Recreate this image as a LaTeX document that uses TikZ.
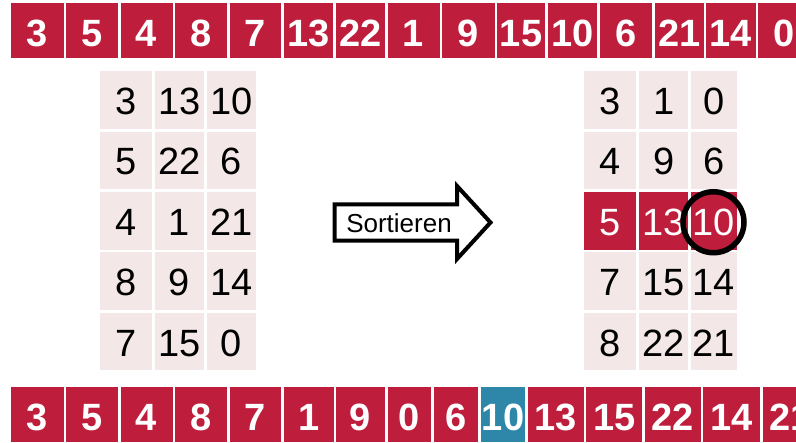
\documentclass[tikz,border=0pt]{standalone}
\usepackage{fontspec}
\setmainfont{Liberation Sans}
\usepackage{tikz}
\usepackage{xcolor}
\definecolor{boxred}{RGB}{190,30,60}
\definecolor{cellpink}{RGB}{243,231,231}
\definecolor{boxblue}{RGB}{46,134,168}

\begin{document}
\begin{tikzpicture}[x=1pt,y=1pt,yscale=-1,xscale=1,
    redbox/.style={fill=boxred,text=white,font=\fontsize{38}{40}\selectfont\bfseries,inner sep=0pt,anchor=north west,minimum height=55.5pt,text height=32.5pt,text depth=0pt},
    bluebox/.style={redbox,fill=boxblue},
    cell/.style={fill=cellpink,text=black,font=\fontsize{38}{40}\selectfont,inner sep=0pt,anchor=north west,minimum width=52pt,minimum height=57.5pt,text height=29pt,text depth=0pt},
    hotcell/.style={cell,fill=boxred,text=white},
    ring/.style={draw=black,circle,line width=5.5pt,inner sep=0pt,minimum size=61pt}]
            \useasboundingbox (0,0) rectangle (796,443);
            \clip (0,0) rectangle (796,443);
            
            %Shape: top row
            \node [redbox,minimum width=52.3pt] (t1) at (11,2.7) {3};
            \node [redbox,minimum width=52.3pt] (t2) at (65.7,2.7) {5};
            \node [redbox,minimum width=52pt] (t3) at (120.3,2.7) {4};
            \node [redbox,minimum width=52pt] (t4) at (175,2.7) {8};
            \node [redbox,minimum width=51.7pt] (t5) at (229.3,2.7) {7};
            \node [redbox,minimum width=49pt] (t6) at (283.7,2.7) {13};
            \node [redbox,minimum width=49.7pt] (t7) at (335.3,2.7) {22};
            \node [redbox,minimum width=52pt] (t8) at (387.3,2.7) {1};
            \node [redbox,minimum width=52.6pt] (t9) at (441.7,2.7) {9};
            \node [redbox,minimum width=48.3pt] (t10) at (496.7,2.7) {15};
            \node [redbox,minimum width=49.3pt] (t11) at (547.7,2.7) {10};
            \node [redbox,minimum width=52.3pt] (t12) at (599.7,2.7) {6};
            \node [redbox,minimum width=48.6pt] (t13) at (654.7,2.7) {21};
            \node [redbox,minimum width=49.3pt] (t14) at (706,2.7) {14};
            \node [redbox,minimum width=51pt] (t15) at (758,2.7) {0};
            
            %Shape: left grid
            \node [cell] (l11) at (100,71) {3};
            \node [cell,minimum width=48.7pt] (l12) at (155,71) {13};
            \node [cell,minimum width=49pt] (l13) at (206.7,71) {10};
            \node [cell] (l21) at (100,131.5) {5};
            \node [cell,minimum width=48.7pt] (l22) at (155,131.5) {22};
            \node [cell,minimum width=49pt] (l23) at (206.7,131.5) {6};
            \node [cell] (l31) at (100,192) {4};
            \node [cell,minimum width=48.7pt] (l32) at (155,192) {1};
            \node [cell,minimum width=49pt] (l33) at (206.7,192) {21};
            \node [cell] (l41) at (100,252.3) {8};
            \node [cell,minimum width=48.7pt] (l42) at (155,252.3) {9};
            \node [cell,minimum width=49pt] (l43) at (206.7,252.3) {14};
            \node [cell] (l51) at (100,312.7) {7};
            \node [cell,minimum width=48.7pt] (l52) at (155,312.7) {15};
            \node [cell,minimum width=49pt] (l53) at (206.7,312.7) {0};
            
            %Shape: arrow
            \draw [line width=4pt,line join=miter,fill=white] (334.7,204.3) -- (457,204.3) -- (457,186) -- (490.5,222.5) -- (457,259) -- (457,240.7) -- (334.7,240.7) -- cycle ;
            % Text Node
            \node [font=\fontsize{26}{28}\selectfont] (sort) at (399,223) {Sortieren};
            
            %Shape: right grid
            \node [cell] (r11) at (584,71) {3};
            \node [cell,minimum width=49pt] (r12) at (639,71) {1};
            \node [cell,minimum width=46pt] (r13) at (690.7,71) {0};
            \node [cell] (r21) at (584,131.5) {4};
            \node [cell,minimum width=49pt] (r22) at (639,131.5) {9};
            \node [cell,minimum width=46pt] (r23) at (690.7,131.5) {6};
            \node [hotcell] (r31) at (584,192) {5};
            \node [hotcell,minimum width=49pt] (r32) at (639,192) {13};
            \node [hotcell,minimum width=46pt] (r33) at (690.7,192) {10};
            \node [cell] (r41) at (584,252.3) {7};
            \node [cell,minimum width=49pt] (r42) at (639,252.3) {15};
            \node [cell,minimum width=46pt] (r43) at (690.7,252.3) {14};
            \node [cell] (r51) at (584,312.7) {8};
            \node [cell,minimum width=49pt] (r52) at (639,312.7) {22};
            \node [cell,minimum width=46pt] (r53) at (690.7,312.7) {21};
            % median mark
            \node [ring] (mark) at ([xshift=-0.4pt,yshift=1.3pt]r33.center) {};
            
            %Shape: bottom row
            \node [redbox,minimum width=52.3pt] (b1) at (11,386.7) {3};
            \node [redbox,minimum width=52.3pt] (b2) at (65.7,386.7) {5};
            \node [redbox,minimum width=52pt] (b3) at (120.3,386.7) {4};
            \node [redbox,minimum width=52pt] (b4) at (175,386.7) {8};
            \node [redbox,minimum width=51.7pt] (b5) at (229.3,386.7) {7};
            \node [redbox,minimum width=49.6pt] (b6) at (283.7,386.7) {1};
            \node [redbox,minimum width=49.7pt] (b7) at (335.3,386.7) {9};
            \node [redbox,minimum width=43.7pt] (b8) at (387.3,386.7) {0};
            \node [redbox,minimum width=44.3pt] (b9) at (433.7,386.7) {6};
            \node [bluebox,minimum width=44.3pt] (b10) at (480.7,386.7) {10};
            \node [redbox,minimum width=55.6pt] (b11) at (527.7,386.7) {13};
            \node [redbox,minimum width=56pt] (b12) at (586,386.7) {15};
            \node [redbox,minimum width=55.6pt] (b13) at (644.7,386.7) {22};
            \node [redbox,minimum width=56.7pt] (b14) at (703,386.7) {14};
            \node [redbox,minimum width=56pt] (b15) at (762.3,386.7) {21};
            
\end{tikzpicture}
\end{document}
